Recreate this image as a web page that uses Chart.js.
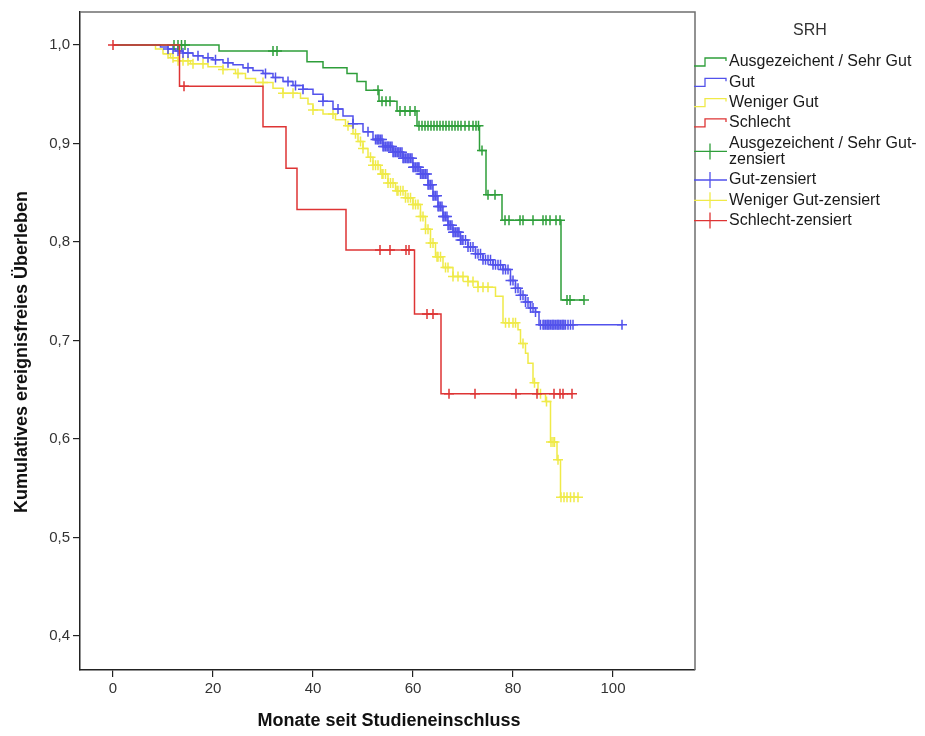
<!DOCTYPE html>
<html>
<head>
<meta charset="utf-8">
<script src="https://cdn.jsdelivr.net/npm/chart.js@4.4.1/dist/chart.umd.min.js"></script>
<style>
  html, body { margin: 0; padding: 0; background: #fff; }
  canvas { display: block; }
</style>
</head>
<body>
<canvas id="km" width="925" height="736"></canvas>
<script>
// Kaplan-Meier curves of event-free survival by self-rated health (SRH)
const groupNames = ['Ausgezeichent / Sehr Gut', 'Gut', 'Weniger Gut', 'Schlecht'];
const groupColors = ['rgb(46,158,58)', 'rgb(82,82,236)', 'rgb(240,234,72)', 'rgb(222,52,52)'];
const legendTitle = 'SRH';
const xTitle = 'Monate seit Studieneinschluss';
const yTitle = 'Kumulatives ereignisfreies Überleben';
const xTickValues = [0, 20, 40, 60, 80, 100];
const yTickValues = [0.4, 0.5, 0.6, 0.7, 0.8, 0.9, 1.0];

// [month of event, survival after the event]
const sehrGutSteps = [
  [21.2, 0.994], [38.8, 0.983], [42, 0.977], [46.8, 0.971], [48.8, 0.963], [50.6, 0.954],
  [53.2, 0.943], [56.8, 0.933], [60.8, 0.918], [73.3, 0.893], [74.6, 0.848], [77.8, 0.822],
  [89.6, 0.741]
];
const gutSteps = [
  [9.5, 0.998], [11, 0.996], [12.5, 0.994], [14, 0.992], [16, 0.989], [18, 0.987], [20, 0.985],
  [22, 0.982], [24, 0.980], [26, 0.977], [28, 0.974], [30, 0.971], [32, 0.967], [34, 0.963],
  [36, 0.959], [38, 0.955], [40, 0.950], [42, 0.943], [44, 0.935], [46, 0.928], [48, 0.920],
  [50, 0.912], [52, 0.904], [54, 0.897], [56, 0.891], [58, 0.885], [60, 0.876], [61.5, 0.869],
  [63, 0.858], [64, 0.847], [65, 0.836], [66, 0.826], [67, 0.817], [68, 0.810], [69.5, 0.802],
  [71, 0.795], [72.5, 0.788], [74, 0.782], [76, 0.777], [78, 0.772], [79.5, 0.761], [80.5, 0.753],
  [81.5, 0.746], [82.5, 0.739], [83.5, 0.733], [84.5, 0.729], [85.2, 0.716]
];
const wenigerGutSteps = [
  [8.5, 0.996], [10, 0.991], [11.5, 0.987], [13, 0.984], [15.5, 0.981], [19, 0.978], [22, 0.975],
  [24.5, 0.971], [26.5, 0.966], [28.5, 0.962], [32, 0.956], [34, 0.951], [37.5, 0.946], [39, 0.940],
  [40, 0.934], [42, 0.930], [44.5, 0.924], [46.5, 0.918], [48, 0.910], [49, 0.902], [50, 0.895],
  [51, 0.886], [52, 0.878], [53.5, 0.869], [55, 0.860], [56.5, 0.852], [58.5, 0.845], [60, 0.838],
  [61.5, 0.826], [62.5, 0.813], [63.5, 0.799], [64.5, 0.785], [66, 0.774], [68, 0.765], [71, 0.760],
  [73, 0.754], [76.5, 0.745], [78, 0.718], [81, 0.711], [81.5, 0.697], [82.5, 0.687], [83, 0.677],
  [84, 0.657], [85, 0.646], [86.5, 0.638], [87.5, 0.597], [88.8, 0.579], [89.5, 0.541]
];
const schlechtSteps = [
  [13.3, 0.958], [30, 0.917], [34.6, 0.875], [36.8, 0.833], [46.6, 0.792], [60.3, 0.727], [65.6, 0.646]
];

// months at which subjects were censored
const sehrGutCensored = [
  12.2, 13, 13.7, 14.4, 32, 32.8, 53, 53.8, 54.6, 55.4, 57.4, 58.4, 59.4, 60.4,
  61.2, 61.8, 62.4, 63, 63.6, 64.2, 64.8, 65.4, 66, 66.6, 67.2, 67.8, 68.4, 69, 69.6, 70.4,
  71.2, 72, 72.6, 73.1, 73.8, 75, 76.4, 78.4, 79.2, 81.4, 82, 84, 86, 86.6, 87.4, 88.6,
  89.4, 90.8, 91.4, 94.2
];
const gutCensored = [
  11, 12, 13, 14, 15, 17, 19, 20.5, 23, 27, 30.5, 32.5, 35, 36.5, 38, 42, 45, 48, 51, 52.5,
  52.8, 53, 53.2, 53.5, 53.8, 54, 54.2, 54.5, 54.8, 55, 55.2, 55.5, 55.8, 56, 56.2, 56.5,
  56.8, 57, 57.2, 57.5, 57.8, 58, 58.2, 58.5, 58.8, 59, 59.2, 59.5, 59.8, 60, 60.2, 60.5,
  60.8, 61, 61.2, 61.5, 61.8, 62, 62.2, 62.5, 62.8, 63, 63.2, 63.5, 63.8, 64, 64.2, 64.5,
  64.8, 65, 65.2, 65.5, 65.8, 66, 66.2, 66.5, 66.8, 67, 67.2, 67.5, 67.8, 68, 68.2, 68.5,
  68.8, 69, 69.2, 69.5, 69.8, 70, 70.5, 71, 71.5, 72, 72.5, 73, 73.5, 74, 74.5, 75, 75.5,
  76, 76.5, 77, 77.5, 78, 78.5, 79, 79.5, 80, 80.5, 81, 81.5, 82, 82.5, 83, 83.5, 84, 84.5,
  85.5, 86, 86.2, 86.5, 86.8, 87, 87.2, 87.5, 87.8, 88, 88.2, 88.5, 88.8, 89, 89.2, 89.5,
  89.8, 90, 90.2, 90.5, 91, 91.5, 92, 101.8
];
const wenigerGutCensored = [
  11, 12, 13, 14, 15, 16, 18, 22, 25, 30, 34, 36, 40, 44, 47, 48.5, 49.5, 50, 51.5, 52,
  52.5, 53, 53.8, 54, 54.5, 55, 55.5, 56, 56.8, 57, 57.5, 58, 58.5, 59, 59.5, 60, 60.5, 61,
  61.5, 62, 62.5, 63, 63.5, 64, 64.8, 65, 65.5, 66.5, 67, 68, 69, 70, 71, 72, 73, 74, 75,
  78.5, 79.2, 80, 80.5, 82, 84.3, 85.5, 86.7, 87.6, 88, 88.3, 89, 89.6, 90.2, 90.8, 91.5,
  92.2, 93
];
const schlechtCensored = [
  0, 14.2, 53.4, 55.4, 58.6, 59.2, 62.8, 64, 67.2, 72.4, 80.6, 84.8, 88.2, 89.4, 90, 91.8
];

const FONT = "'Liberation Sans', Arial, sans-serif";
const stepSets = [sehrGutSteps, gutSteps, wenigerGutSteps, schlechtSteps];
const censorSets = [sehrGutCensored, gutCensored, wenigerGutCensored, schlechtCensored];
const lineOrder = [4, 5, 6, 2];
const markOrder = [3, 4.5, 5.5, 1];

function survivalAt(steps, t) {
  let s = 1;
  for (const [time, value] of steps) {
    if (time <= t) s = value; else break;
  }
  return s;
}

const datasets = [];
stepSets.forEach((steps, i) => {
  const censored = censorSets[i];
  const last = steps[steps.length - 1];
  const end = Math.max(last[0], ...censored);
  const linePts = [{ x: 0, y: 1 }]
    .concat(steps.map(([x, y]) => ({ x, y })))
    .concat([{ x: end, y: last[1] }]);
  datasets.push({
    label: groupNames[i],
    data: linePts,
    stepped: 'before',
    borderColor: groupColors[i],
    borderWidth: 1.5,
    pointRadius: 0,
    fill: false,
    order: lineOrder[i]
  });
  datasets.push({
    label: groupNames[i] + '-zensiert',
    data: censored.map(t => ({ x: t, y: survivalAt(steps, t) })),
    showLine: false,
    pointStyle: 'cross',
    pointRadius: 5,
    pointBorderWidth: 1.5,
    borderColor: groupColors[i],
    pointBorderColor: groupColors[i],
    order: markOrder[i]
  });
});

// frame, axis titles and legend drawn around the plot
const decorations = {
  id: 'decorations',
  afterDraw(chart) {
    const { ctx, chartArea: a } = chart;
    ctx.save();
    // top and right edges of the plot frame
    ctx.strokeStyle = '#6f6f6f';
    ctx.lineWidth = 1.5;
    ctx.beginPath();
    ctx.moveTo(a.left, a.top);
    ctx.lineTo(a.right, a.top);
    ctx.lineTo(a.right, a.bottom);
    ctx.stroke();

    // axis titles
    ctx.fillStyle = '#111';
    ctx.font = 'bold 18px ' + FONT;
    ctx.textAlign = 'center';
    ctx.textBaseline = 'middle';
    ctx.fillText(xTitle, 389, 721);
    ctx.save();
    ctx.translate(22, 352);
    ctx.rotate(-Math.PI / 2);
    ctx.fillText(yTitle, 0, 0);
    ctx.restore();

    // legend
    ctx.font = '16px ' + FONT;
    ctx.fillStyle = '#333';
    ctx.fillText(legendTitle, 810, 31);
    ctx.textAlign = 'left';
    ctx.fillStyle = '#1a1a1a';
    const textX = 729;
    const maxW = 925 - textX - 4;
    const items = [];
    groupNames.forEach((g, i) => items.push({ text: g, color: groupColors[i], kind: 'step' }));
    groupNames.forEach((g, i) => items.push({ text: g + '-zensiert', color: groupColors[i], kind: 'cross' }));
    let y = 62;
    const lineH = 16.5;
    items.forEach(item => {
      let lines = [item.text];
      if (ctx.measureText(item.text).width > maxW && item.text.includes('-')) {
        const k = item.text.lastIndexOf('-');
        lines = [item.text.slice(0, k + 1), item.text.slice(k + 1)];
      }
      const yc = y + (lines.length - 1) * lineH / 2;
      ctx.strokeStyle = item.color;
      ctx.lineWidth = 1.3;
      ctx.beginPath();
      if (item.kind === 'step') {
        ctx.moveTo(694, yc + 4);
        ctx.lineTo(705, yc + 4);
        ctx.lineTo(705, yc - 4);
        ctx.lineTo(726, yc - 4);
        ctx.lineTo(726, yc - 1);
      } else {
        ctx.moveTo(694, yc);
        ctx.lineTo(727, yc);
        ctx.moveTo(710, yc - 8);
        ctx.lineTo(710, yc + 8);
      }
      ctx.stroke();
      lines.forEach((ln, j) => ctx.fillText(ln, textX, y + j * lineH));
      y += (lines.length - 1) * lineH + 20.3;
    });
    ctx.restore();
  }
};

new Chart(document.getElementById('km'), {
  type: 'line',
  data: { datasets },
  options: {
    responsive: false,
    animation: false,
    events: [],
    layout: { padding: { left: 0, top: 12, right: 230, bottom: 0 } },
    plugins: { legend: { display: false }, tooltip: { enabled: false } },
    scales: {
      x: {
        type: 'linear',
        min: -6.6,
        max: 116.4,
        afterBuildTicks: s => { s.ticks = xTickValues.map(v => ({ value: v })); },
        afterFit: s => { s.height = 66; },
        ticks: { color: '#333', font: { family: FONT, size: 15 }, padding: 3, maxRotation: 0, autoSkip: false },
        grid: { drawOnChartArea: false, drawTicks: true, tickLength: 7, color: '#222', lineWidth: 1.2 },
        border: { color: '#222', width: 1.5 }
      },
      y: {
        type: 'linear',
        min: 0.3655,
        max: 1.0335,
        afterBuildTicks: s => { s.ticks = yTickValues.map(v => ({ value: v })); },
        afterFit: s => { s.width = 80; },
        ticks: {
          color: '#333',
          font: { family: FONT, size: 15 },
          padding: 3,
          autoSkip: false,
          callback: v => v.toFixed(1).replace('.', ',')
        },
        grid: { drawOnChartArea: false, drawTicks: true, tickLength: 7, color: '#222', lineWidth: 1.2 },
        border: { color: '#222', width: 1.5 }
      }
    }
  },
  plugins: [decorations]
});
</script>
</body>
</html>
